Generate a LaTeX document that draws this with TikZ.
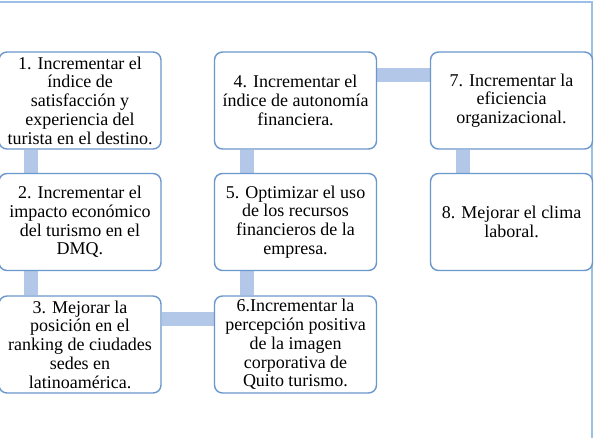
\documentclass[tikz,border=0pt]{standalone}
\usepackage{fontspec}
\setmainfont{Liberation Serif}
\usetikzlibrary{backgrounds}
\definecolor{boxc}{HTML}{6A97CC}
\definecolor{linkc}{HTML}{B3C8E8}
\definecolor{framec}{HTML}{9CBFE6}
\begin{document}
\begin{tikzpicture}[x=1pt,y=-1pt,
  goal/.style={draw=boxc, line width=1.4pt, rounded corners=8pt, fill=white,
    minimum width=162pt, minimum height=97pt, align=center, inner sep=0pt,
    font=\fontsize{18}{18.75}\selectfont},
  link/.style={draw=linkc, line width=14pt}]
\useasboundingbox (0,0) rectangle (599,438);
\coordinate (f1) at (-2,2);
\coordinate (f2) at (592,2);
\coordinate (f3) at (592,440);
\draw[framec, line width=1.4pt] (f1) -- (f2) -- (f3);
\node[goal] (b1) at (80,100.5) {1. Incrementar el\\ índice de\\ satisfacción y\\ experiencia del\\ turista en el destino.};
\node[goal] (b2) at (80,222) {2. Incrementar el\\ impacto económico\\ del turismo en el\\ DMQ.};
\node[goal] (b3) at (80,344.5) {3. Mejorar la\\ posición en el\\ ranking de ciudades\\ sedes en\\ latinoamérica.};
\node[goal] (b4) at (295.5,100.5) {4. Incrementar el\\ índice de autonomía\\ financiera.};
\node[goal] (b5) at (295.5,222) {5. Optimizar el uso\\ de los recursos\\ financieros de la\\ empresa.};
\node[goal] (b6) at (295.5,344.5) {6.Incrementar la\\ percepción positiva\\ de la imagen\\ corporativa de\\ Quito turismo.};
\node[goal] (b7) at (511.5,100.5) {7. Incrementar la\\ eficiencia\\ organizacional.};
\node[goal] (b8) at (511.5,222) {8. Mejorar el clima\\ laboral.};
\begin{scope}[on background layer]
\draw[link] ([xshift=32.5pt]b1.south west) -- ([xshift=32.5pt]b2.north west);
\draw[link] ([xshift=32.5pt]b2.south west) -- ([xshift=32.5pt]b3.north west);
\draw[link] ([yshift=-24pt]b3.north east) -- ([yshift=-24pt]b6.north west);
\draw[link] ([xshift=33.5pt]b6.north west) -- ([xshift=33.5pt]b5.south west);
\draw[link] ([xshift=33.5pt]b5.north west) -- ([xshift=33.5pt]b4.south west);
\draw[link] ([yshift=-24pt]b4.north east) -- ([yshift=-24pt]b7.north west);
\draw[link] ([xshift=33.5pt]b7.south west) -- ([xshift=33.5pt]b8.north west);
\end{scope}
\end{tikzpicture}
\end{document}
